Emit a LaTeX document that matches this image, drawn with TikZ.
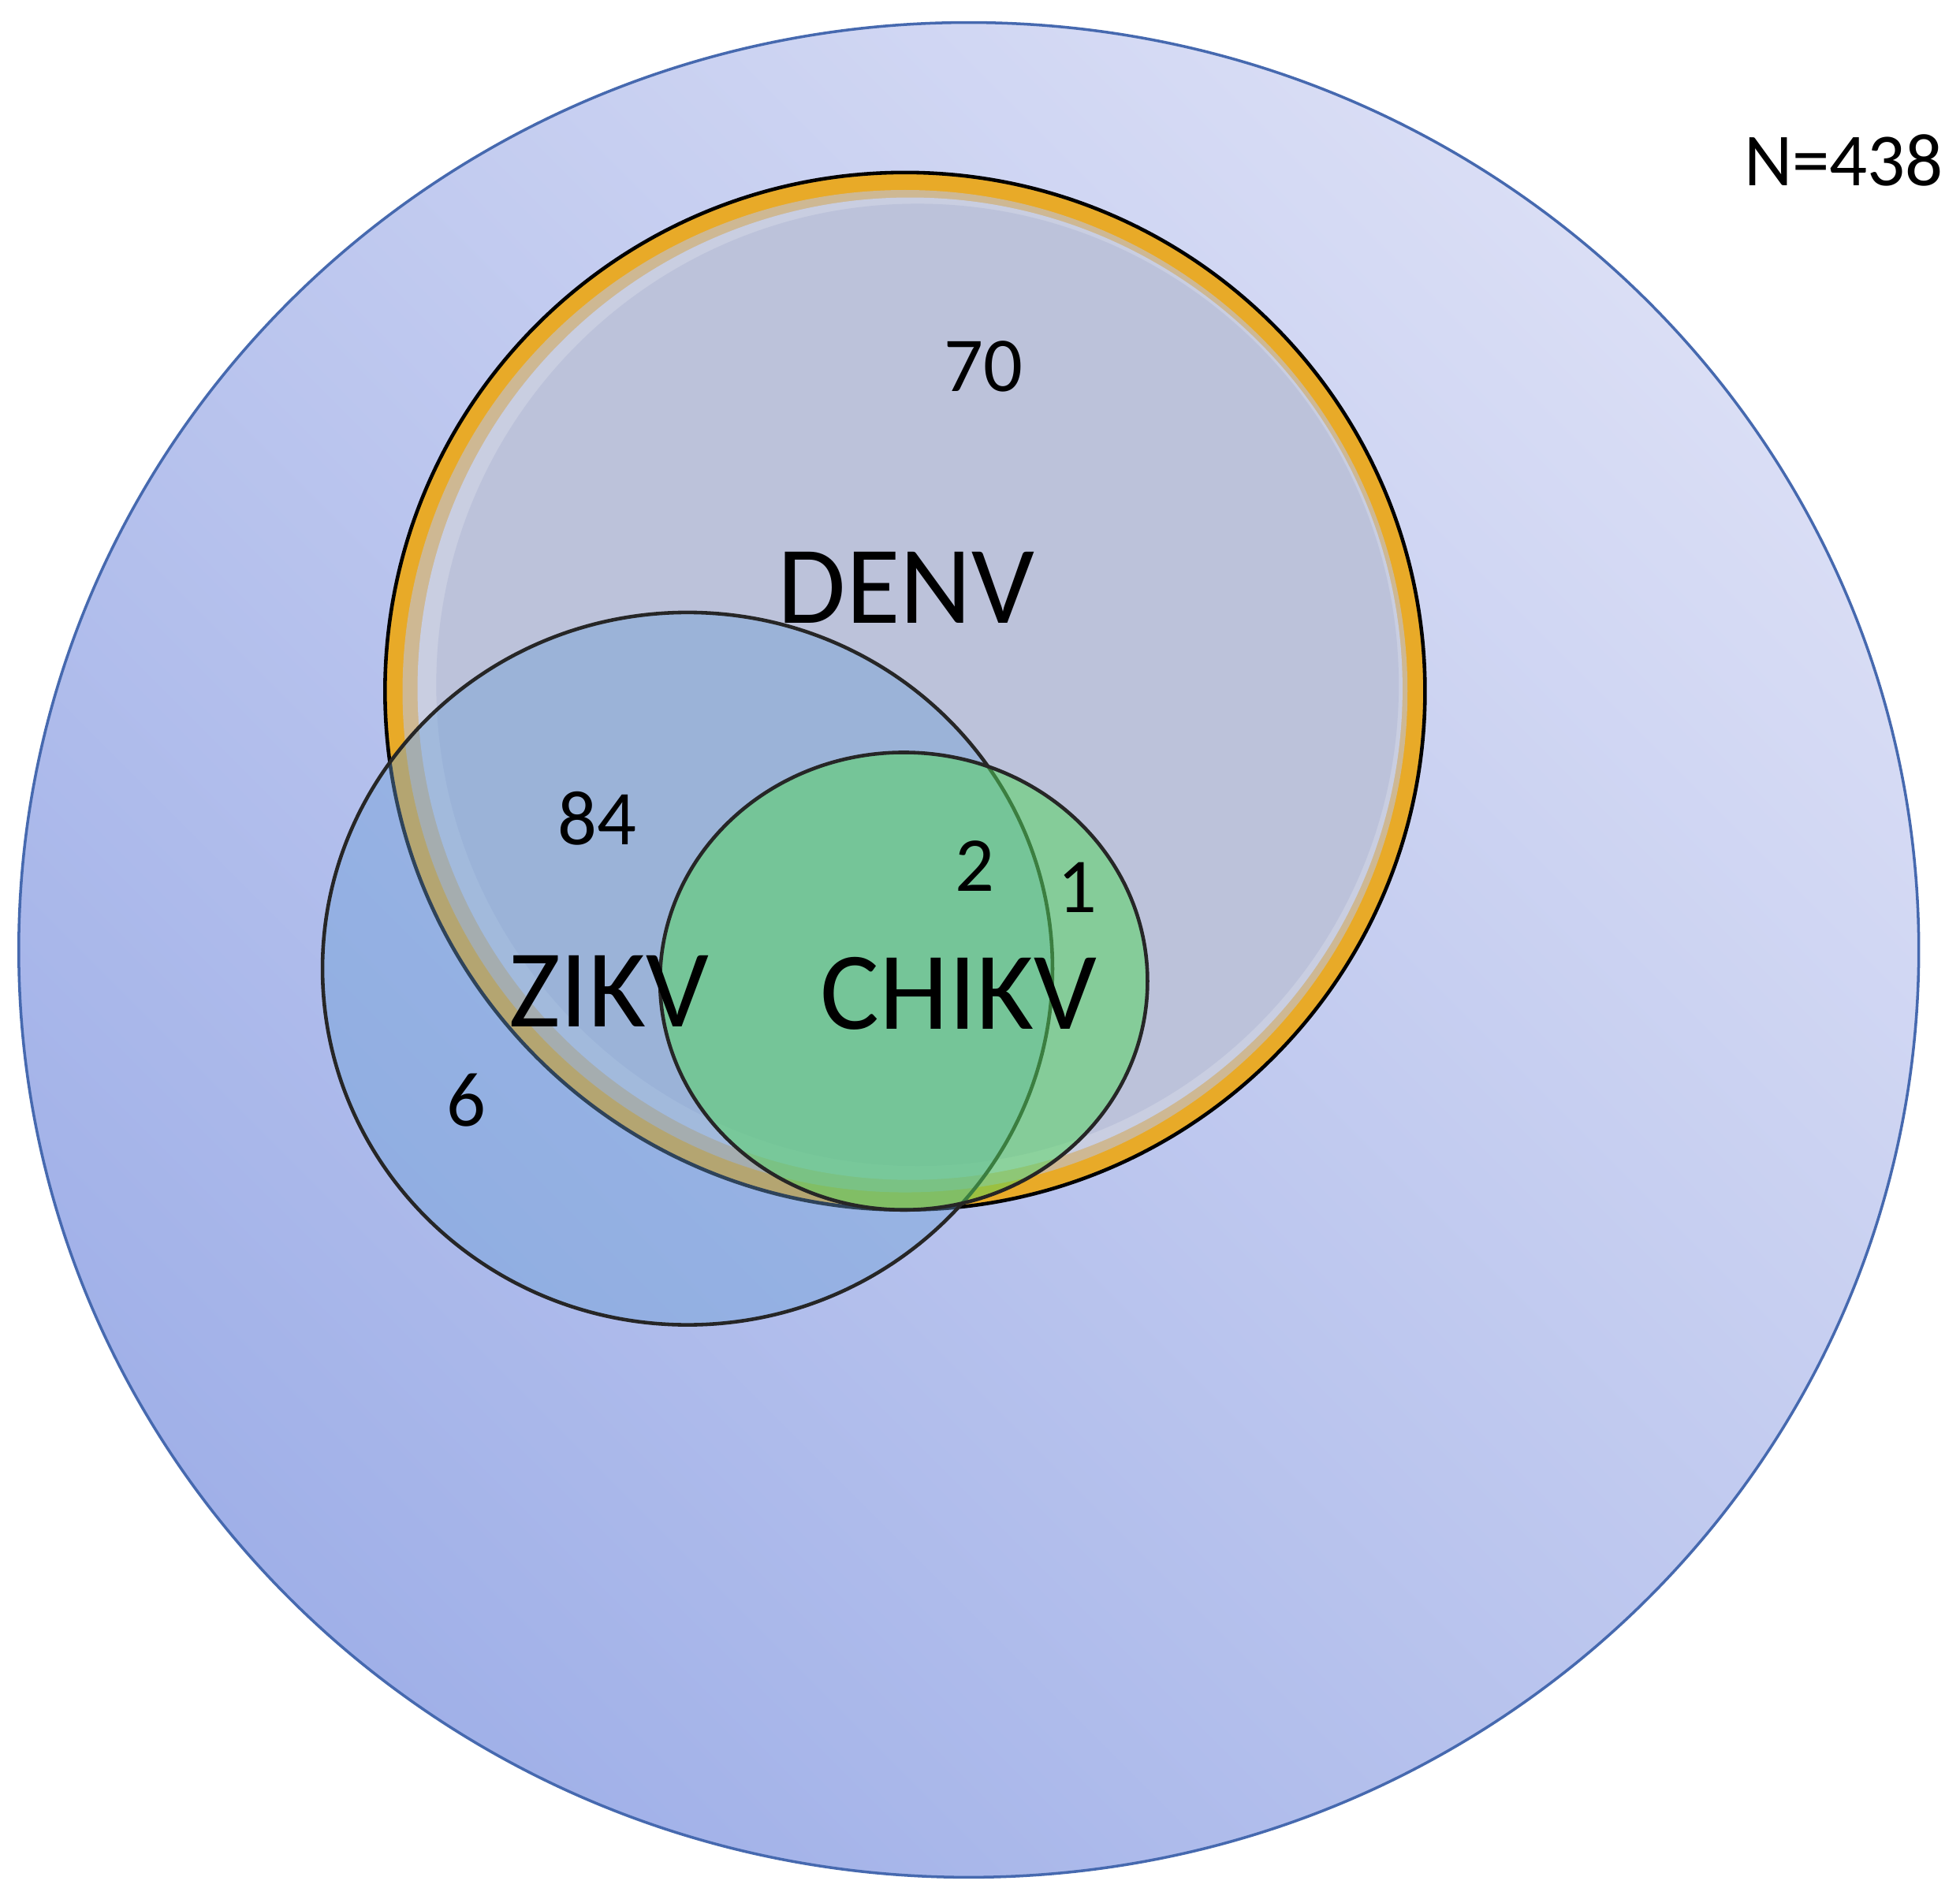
\documentclass[tikz,border=0pt]{standalone}
\usepackage{fontspec}
\setmainfont{Carlito}
\begin{document}
\begin{tikzpicture}[x=0.01585cm,y=-0.01585cm,
  num/.style={font=\fontsize{28}{30}\selectfont},
  lab/.style={font=\fontsize{40}{44}\selectfont}]
\definecolor{bgA}{RGB}{218,222,245}
\definecolor{bgB}{RGB}{160,176,232}
\definecolor{bord}{RGB}{70,105,175}
\definecolor{orng}{RGB}{232,170,40}
\definecolor{denvf}{RGB}{188,194,218}
\definecolor{zik}{RGB}{110,160,215}
\definecolor{chik}{RGB}{80,215,90}
\fill[white] (0,0) rectangle (1568,1522);
\useasboundingbox (0,0) rectangle (1568,1522);
% universe
\shade[left color=bgA,right color=bgB,shading angle=-45] (775,760) ellipse [x radius=760,y radius=742];
\draw[bord,line width=1pt] (775,760) ellipse [x radius=760,y radius=742];
% DENV
\fill[orng] (724,553) ellipse [x radius=416,y radius=415];
\fill[orng!40!denvf] (724,553) ellipse [x radius=402,y radius=401];
\fill[denvf!80!white] (728,551) ellipse [x radius=394,y radius=393];
\fill[denvf] (734,548) ellipse [x radius=385,y radius=385];
\draw[black,line width=1.3pt] (724,553) ellipse [x radius=416,y radius=415];
% ZIKV
\fill[zik,opacity=0.42] (550,775) ellipse [x radius=292,y radius=285];
\draw[black!85,line width=1.3pt] (550,775) ellipse [x radius=292,y radius=285];
% CHIKV
\fill[chik,opacity=0.5] (723,785) ellipse [x radius=195,y radius=183];
\draw[black!85,line width=1.3pt] (723,785) ellipse [x radius=195,y radius=183];
% texts
\node[font=\fontsize{27}{30}\selectfont] (n) at (1475,128) {N=438};
\node[num] (a) at (787,293) {70};
\node[lab] (d) at (725,470) {DENV};
\node[num] (b) at (478,655) {84};
\node[num] (c) at (780,693) {2};
\node[num] (e) at (862,710) {1};
\node[lab] (z) at (487,793) {ZIKV};
\node[lab] (k) at (767,795) {CHIKV};
\node[num] (f) at (373,880) {6};
\end{tikzpicture}
\end{document}
